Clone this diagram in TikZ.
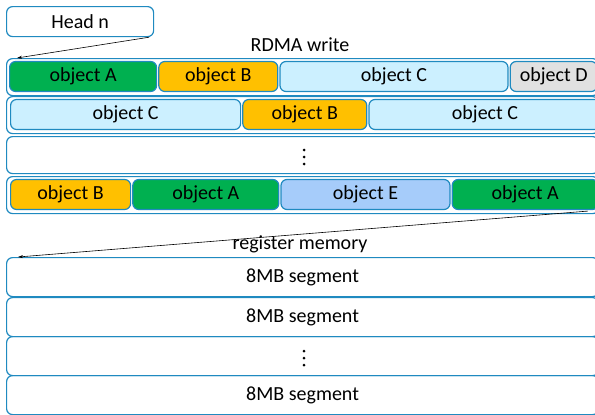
\documentclass[tikz,border=0pt]{standalone}
\usepackage{fontspec}
\setmainfont{Carlito}
\usetikzlibrary{positioning,arrows.meta}
\definecolor{edgeblue}{HTML}{1F8AC0}
\definecolor{objgreen}{HTML}{00B050}
\definecolor{objorange}{HTML}{FFC000}
\definecolor{objcyan}{HTML}{CCF0FF}
\definecolor{objgray}{HTML}{E1E1E1}
\definecolor{objblue}{HTML}{A6CCFA}
\tikzset{
  box/.style={draw=edgeblue, line width=1.2pt, rounded corners=6pt, inner sep=0pt},
  obj/.style={box, minimum height=30pt, anchor=west},
  slot/.style={box, minimum width=592pt, minimum height=37pt, anchor=north west},
  arr/.style={-{Stealth[length=5pt,width=3pt]}, line width=0.6pt}
}
\newcommand{\dotcol}[1]{\fill (#1) ++(0,-7) circle (1.5pt) ++(0,7) circle (1.5pt) ++(0,7) circle (1.5pt);}
\begin{document}
\begin{tikzpicture}[x=1pt,y=-1pt,font=\fontsize{20}{24}\selectfont]
  \useasboundingbox (0,0) rectangle (595,415);

  \node [box, minimum width=147pt, minimum height=30pt, anchor=north west] (head) at (6,6) {Head n};
  \node (rdma) at (300,45) {RDMA write};

  % ring buffer
  \node [slot] (row1) at (6,58) {};
  \node [slot] (row2) at (6,96) {};
  \node [slot] (row3) at (6,136) {};
  \node [slot] (row4) at (6,176) {};
  \coordinate (gap1) at (304,157);
  \dotcol{gap1}

  \node [obj, fill=objgreen, minimum width=147pt] (a1) at (9,76.5) {object A};
  \node [obj, fill=objorange, minimum width=119pt, right=1pt of a1] (b1) {object B};
  \node [obj, fill=objcyan, minimum width=228pt, right=1pt of b1] (c1) {object C};
  \node [obj, fill=objgray, minimum width=87pt, right=1pt of c1] (d1) {object D};

  \node [obj, fill=objcyan, minimum width=230pt] (c2) at (10,114.5) {object C};
  \node [obj, fill=objorange, minimum width=124pt, right=1pt of c2] (b2) {object B};
  \node [obj, fill=objcyan, minimum width=232pt, right=1pt of b2] (c3) {object C};

  \node [obj, fill=objorange, minimum width=120pt] (b4) at (10,194.5) {object B};
  \node [obj, fill=objgreen, minimum width=146pt, right=1pt of b4] (a4) {object A};
  \node [obj, fill=objblue, minimum width=169pt, right=1pt of a4] (e4) {object E};
  \node [obj, fill=objgreen, minimum width=146pt, right=1pt of e4] (a5) {object A};

  \node (reg) at (300,244) {register memory};

  % registered segments
  \node [slot, minimum height=39pt] (seg1) at (6,257) {8MB segment};
  \node [slot, minimum height=39pt] (seg2) at (6,297) {8MB segment};
  \node [slot, minimum height=39pt] (seg3) at (6,336) {};
  \node [slot, minimum height=39pt] (seg4) at (6,375) {8MB segment};
  \coordinate (gap2) at (304,358);
  \dotcol{gap2}

  \draw [arr] ([xshift=-5pt]head.south east) -- ([xshift=11pt]row1.north west);
  \draw [arr] ([xshift=-11pt,yshift=-1pt]a5.south east) -- ([xshift=12pt]seg1.north west);
\end{tikzpicture}
\end{document}
